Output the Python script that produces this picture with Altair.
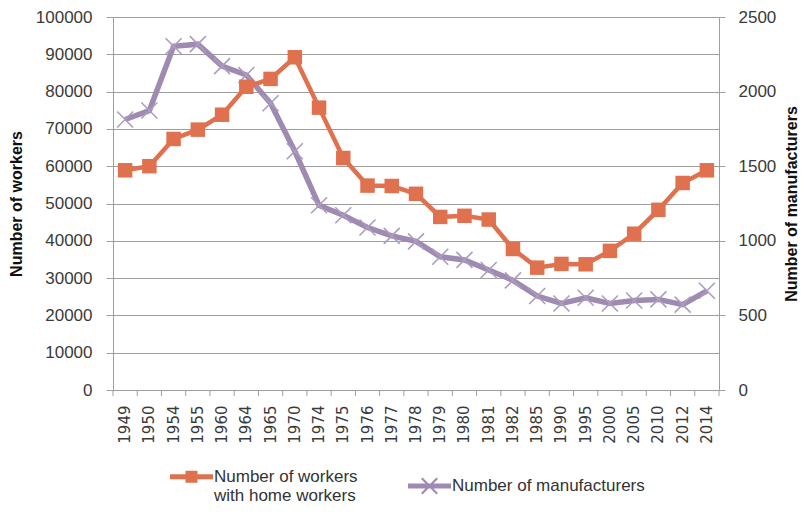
import altair as alt
import pandas as pd

# ---- data ----
years = ["1949", "1950", "1954", "1955", "1960", "1964", "1965", "1970", "1974",
         "1975", "1976", "1977", "1978", "1979", "1980", "1981", "1982", "1985",
         "1990", "1995", "2000", "2005", "2010", "2012", "2014"]
workers = [58900, 60000, 67300, 69800, 73800, 81300, 83400, 89200, 75700,
           62200, 54800, 54700, 52600, 46400, 46700, 45700, 37800, 32800,
           33800, 33700, 37300, 41900, 48300, 55500, 58900]
manufacturers = [1813, 1873, 2304, 2318, 2171, 2111, 1922, 1600, 1238,
                 1171, 1089, 1033, 996, 893, 872, 804, 735, 630,
                 580, 618, 580, 600, 607, 572, 665]
series_keys = ["workers", "manufacturers"]
series_labels = {
    "workers": ["Number of workers", "with home workers"],
    "manufacturers": ["Number of manufacturers"],
}
left_ticks = [0, 10000, 20000, 30000, 40000, 50000, 60000, 70000, 80000, 90000, 100000]
right_ticks = [0, 500, 1000, 1500, 2000, 2500]

ORANGE = "#E0714F"
PURPLE = "#9F8BB1"
PURPLE_X = "#AC9CBE"
AXIS_GREY = "#A39C9C"
GRID_GREY = "#9E9E9E"
LABEL = "#3A3A3A"

df = pd.DataFrame({"year": years, "workers": workers, "manufacturers": manufacturers})
legend_df = pd.DataFrame({"series": series_keys})

W, H = 606, 373

x_scale = alt.Scale(type="band", paddingInner=0, paddingOuter=0, domain=years)
x_axis = alt.Axis(title=None, labelAngle=270, labelFont="DejaVu Sans", labelFontSize=15,
                  labelColor=LABEL, ticks=False, domainColor=AXIS_GREY, domainWidth=1,
                  labelPadding=15, grid=False)
X = alt.X("year:N", scale=x_scale, axis=x_axis, sort=years)

base = alt.Chart(df)

# ---- manufacturers (right axis) ----
y_right = alt.Y("manufacturers:Q",
                scale=alt.Scale(domain=[0, 2500], nice=False, zero=True),
                axis=alt.Axis(orient="right", title="Number of manufacturers",
                              values=right_ticks, format="d", grid=False, tickSize=6,
                              tickColor=AXIS_GREY, domainColor=AXIS_GREY,
                              labelFont="Liberation Sans", labelFontSize=17,
                              labelColor=LABEL, labelPadding=13,
                              titleFont="Liberation Sans", titleFontSize=16,
                              titleFontWeight="bold", titleColor="#111111",
                              titleAngle=270, titlePadding=24))
manuf_line = base.mark_line(color=PURPLE, strokeWidth=5.5).encode(x=X, y=y_right)
manuf_pts = base.mark_point(shape="M-1,-1L1,1M-1,1L1,-1", filled=False, color=PURPLE_X,
                            strokeWidth=1.6, size=256, opacity=1).encode(x=X, y=y_right)
manuf_layer = alt.layer(manuf_line, manuf_pts)

# ---- workers (left axis) ----
y_left = alt.Y("workers:Q",
               scale=alt.Scale(domain=[0, 100000], nice=False, zero=True),
               axis=alt.Axis(orient="left", title="Number of workers",
                             values=left_ticks, format="d", grid=True, gridColor=GRID_GREY,
                             gridWidth=1, tickSize=7, tickColor=AXIS_GREY,
                             domainColor=AXIS_GREY, labelFont="Liberation Sans",
                             labelFontSize=17, labelColor=LABEL, labelPadding=14,
                             titleFont="Liberation Sans", titleFontSize=16,
                             titleFontWeight="bold", titleColor="#111111",
                             titlePadding=11))
work_line = base.mark_line(color=ORANGE, strokeWidth=4.5).encode(x=X, y=y_left)
work_pts = base.mark_square(color=ORANGE, size=210, opacity=1).encode(x=X, y=y_left)
work_layer = alt.layer(work_line, work_pts)

# ---- x-axis tick marks at category boundaries ----
ticks_start = base.mark_rule(color=AXIS_GREY, strokeWidth=1).encode(
    x=alt.X("year:N", scale=x_scale, axis=x_axis, sort=years, bandPosition=0),
    y=alt.value(H), y2=alt.value(H + 6))
ticks_end = base.mark_rule(color=AXIS_GREY, strokeWidth=1).transform_filter(
    alt.datum.year == years[-1]).encode(
    x=alt.X("year:N", scale=x_scale, axis=x_axis, sort=years, bandPosition=1),
    y=alt.value(H), y2=alt.value(H + 6))

# ---- legend (line + marker symbols) ----
u = 0.035
a = 0.36
line_path = "M-1,-0.12L1,-0.12L1,0.12L-1,0.12Z"
orange_sym = line_path + "M-0.28,-0.28L0.28,-0.28L0.28,0.28L-0.28,0.28Z"
purple_sym = (line_path
              + f"M{-a + u:.3f},{-a - u:.3f}L{a + u:.3f},{a - u:.3f}L{a - u:.3f},{a + u:.3f}L{-a - u:.3f},{-a + u:.3f}Z"
              + f"M{-a - u:.3f},{a - u:.3f}L{a - u:.3f},{-a - u:.3f}L{a + u:.3f},{-a + u:.3f}L{-a + u:.3f},{a + u:.3f}Z")

def js_list(items):
    return "[" + ",".join("'" + t + "'" for t in items) + "]"

label_expr = ("datum.value == 'workers' ? " + js_list(series_labels["workers"]) +
              " : " + js_list(series_labels["manufacturers"]))
legend = alt.Legend(title=None, orient="none", legendX=57, legendY=438,
                    direction="horizontal", columns=2, columnPadding=50,
                    labelExpr=label_expr, labelFont="Liberation Sans",
                    labelFontSize=17, labelColor="#333333", labelLimit=400,
                    labelBaseline="middle",
                    symbolSize=1849, symbolOpacity=1, symbolStrokeWidth=0,
                    labelOffset=1, padding=0)
ghost = alt.Chart(legend_df).mark_point(filled=True, opacity=0, size=10).encode(
    color=alt.Color("series:N", scale=alt.Scale(domain=series_keys, range=[ORANGE, PURPLE]),
                    legend=legend),
    shape=alt.Shape("series:N", scale=alt.Scale(domain=series_keys, range=[orange_sym, purple_sym]),
                    legend=legend),
)

chart = alt.layer(manuf_layer, work_layer, ticks_start, ticks_end, ghost).resolve_scale(
    y="independent"
).properties(
    width=W, height=H,
    autosize=alt.AutoSizeParams(type="none"),
    padding={"left": 105, "top": 9, "right": 83, "bottom": 115},
    background="white",
).configure_view(strokeWidth=0)

chart.save("out.html", embed_options={"renderer": "svg", "actions": False})
